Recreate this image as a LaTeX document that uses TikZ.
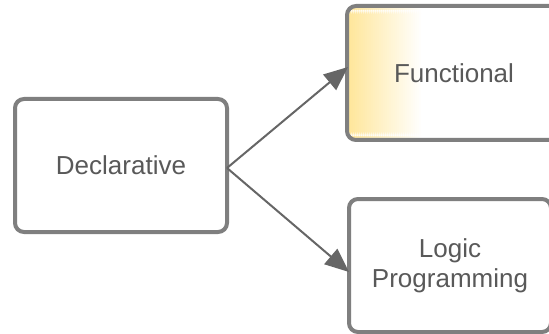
\documentclass[tikz,border=0pt]{standalone}
\usepackage{fontspec}
\setmainfont{Liberation Sans}
\usetikzlibrary{arrows.meta}
\definecolor{boxgray}{HTML}{7F7F7F}
\definecolor{txtgray}{HTML}{595959}
\definecolor{arrgray}{HTML}{666666}
\definecolor{yel}{HTML}{FFE699}
\tikzset{
  box/.style={draw=boxgray, line width=4pt, rounded corners=9pt, fill=white,
    text=txtgray, font=\fontsize{26}{30}\selectfont, align=center,
    inner sep=0pt, outer sep=0pt},
  conn/.style={draw=arrgray, line width=2pt, -{Triangle[length=24pt,width=20pt]}}
}
\begin{document}
\begin{tikzpicture}[x=1pt,y=-1pt]
\useasboundingbox (0,0) rectangle (549,334);
\clip (0,0) rectangle (549,334);
\node[box, minimum width=212pt, minimum height=133pt] (d) at (121,165.5) {Declarative};
\node[box, minimum width=214pt, minimum height=134pt,
  path picture={
    \foreach \i in {0,...,37}{
      \pgfmathsetmacro{\p}{100-\i*100/37}
      \fill[yel!\p!white] ([xshift=\i*2pt]path picture bounding box.south west) rectangle ([xshift=\i*2pt+2.3pt]path picture bounding box.north west);
    }}]
  (f) at (454,73) {Functional};
\node[box, minimum width=202pt, minimum height=133pt] (l) at (450,265.5) {Logic\\Programming};
\draw[conn] ([yshift=-2.5pt]d.east) -- ([xshift=1pt,yshift=6pt]f.west);
\draw[conn] ([yshift=-2.5pt]d.east) -- ([xshift=0pt,yshift=-6.5pt]l.west);
\end{tikzpicture}
\end{document}
